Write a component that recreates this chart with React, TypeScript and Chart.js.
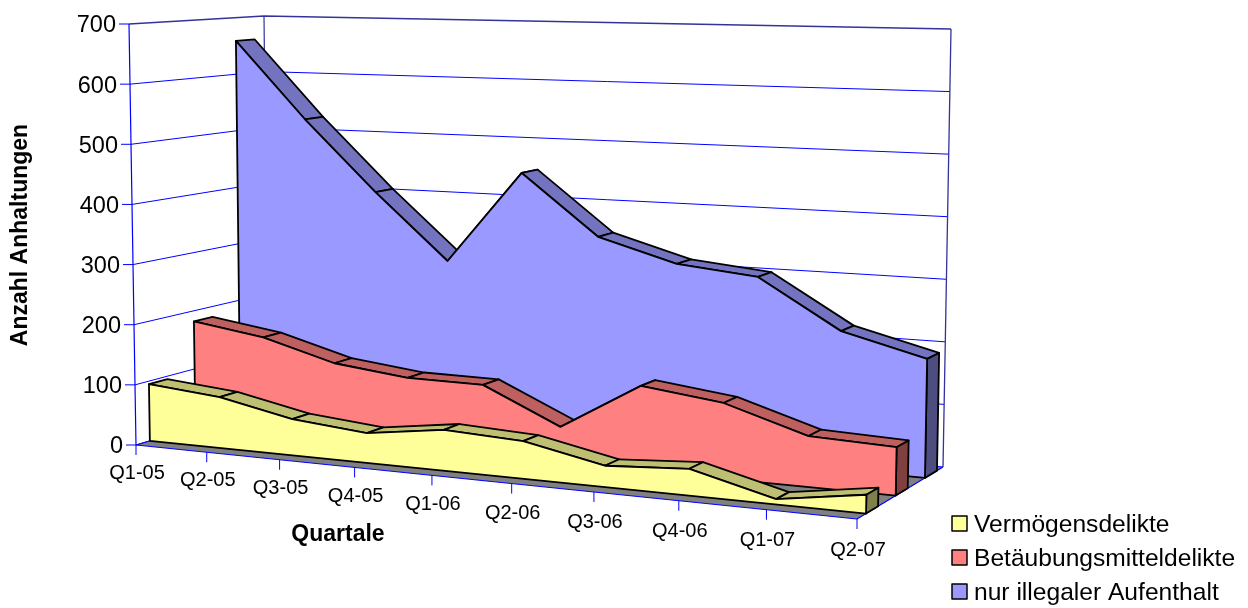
import React, { useEffect, useRef } from "react";
import { Chart, registerables } from "chart.js";

Chart.register(...registerables);

const categories = ["Q1-05", "Q2-05", "Q3-05", "Q4-05", "Q1-06", "Q2-06", "Q3-06", "Q4-06", "Q1-07", "Q2-07"];
const vermoegensdelikte = [95, 84, 59, 48, 65, 59, 33, 41, 8, 28];
const betaeubungsmitteldelikte = [182, 164, 130, 116, 115, 58, 135, 119, 79, 74];
const illegalerAufenthalt = [659, 525, 404, 293, 449, 349, 312, 299, 221, 187];

type P = [number, number];
const FONT = '"Liberation Sans", Arial, sans-serif';

// corners of the 3D box: [front-left, front-right, back-left, back-right]
const floorCorners: P[] = [[136, 445], [857, 519], [268, 405], [943, 467]];
const topCorners: P[] = [[129, 24], [866, 45], [264, 16], [951, 29]];
const PERSPECTIVE = 0.149;

const lerp = (a: number, b: number, k: number) => a + (b - a) * k;
const bilinear = (c: P[], u: number, w: number, idx: 0 | 1) =>
  lerp(lerp(c[0][idx], c[1][idx], u), lerp(c[2][idx], c[3][idx], u), w);

function project(t: number, v: number, w: number): P {
  const u = t / (1 + PERSPECTIVE * (1 - t));
  return [
    lerp(bilinear(floorCorners, u, w, 0), bilinear(topCorners, u, w, 0), v),
    lerp(bilinear(floorCorners, u, w, 1), bilinear(topCorners, u, w, 1), v),
  ];
}

function poly(ctx: CanvasRenderingContext2D, pts: P[], fill: string | null, stroke: string | null, lw = 1.8) {
  ctx.beginPath();
  pts.forEach((p, i) => (i ? ctx.lineTo(p[0], p[1]) : ctx.moveTo(p[0], p[1])));
  if (fill) {
    ctx.closePath();
    ctx.fillStyle = fill;
    ctx.fill();
  }
  if (stroke) {
    ctx.strokeStyle = stroke;
    ctx.lineWidth = lw;
    ctx.stroke();
  }
}

const BLUE = "#0000ff";
const DARK = "#333399";

const box3d = {
  id: "box3d",
  beforeDatasetsDraw(chart: any) {
    const ctx: CanvasRenderingContext2D = chart.ctx;
    const xs = chart.scales.x;
    const ys = chart.scales.y;
    const tOf = (i: number) => (xs.getPixelForValue(i) - xs.left) / xs.width;
    const vOf = (val: number) => (ys.bottom - ys.getPixelForValue(val)) / ys.height;
    ctx.save();
    ctx.lineJoin = "round";

    // floor
    poly(ctx, [project(0, 0, 0), project(1, 0, 0), project(1, 0, 1), project(0, 0, 1)], "#808080", null);

    // walls: grid lines, ticks and value labels
    ys.ticks.forEach((tk: any) => {
      const v = vOf(tk.value);
      const a = project(0, v, 0);
      const b = project(0, v, 1);
      const c = project(1, v, 1);
      const isTop = tk.value === ys.max;
      poly(ctx, [a, b, c], null, isTop ? DARK : BLUE, isTop ? 1.3 : 1);
      poly(ctx, [[a[0] - 10, a[1]], a], null, BLUE, 1);
      ctx.fillStyle = "#000";
      ctx.font = `23.5px ${FONT}`;
      ctx.textAlign = "right";
      ctx.textBaseline = "middle";
      ctx.fillText(String(tk.value), a[0] - 13, a[1] + 2);
    });
    poly(ctx, [project(0, 0, 0), project(0, 1, 0)], null, BLUE, 1.2);
    poly(ctx, [project(0, 0, 1), project(0, 1, 1)], null, DARK, 1.2);
    poly(ctx, [project(1, 0, 1), project(1, 1, 1)], null, DARK, 1.3);
    poly(ctx, [project(0, 0, 0), project(1, 0, 0), project(1, 0, 1)], null, BLUE, 1.2);
    poly(ctx, [project(0, 0, 0), project(0, 0, 1)], null, BLUE, 1);

    // category ticks and labels
    categories.forEach((_, i) => {
      const t = tOf(i);
      const p = project(t, 0, 0);
      poly(ctx, [p, [p[0], p[1] + 10]], null, BLUE, 1);
      ctx.fillStyle = "#000";
      ctx.font = `20px ${FONT}`;
      ctx.textAlign = "center";
      ctx.textBaseline = "middle";
      ctx.fillText(xs.getLabelForValue(i), p[0] + 1, p[1] + 28 + 3 * t);
    });

    // series from back to front
    for (let d = chart.data.datasets.length - 1; d >= 0; d--) {
      const ds = chart.data.datasets[d];
      const [w0, w1] = ds.depthRange;
      const n = ds.data.length;
      const front = (i: number) => project(tOf(i), vOf(ds.data[i]), w0);
      const back = (i: number) => project(tOf(i), vOf(ds.data[i]), w1);
      for (let i = 0; i < n - 1; i++) {
        poly(ctx, [front(i), front(i + 1), back(i + 1), back(i)], ds.topColor, "#000");
      }
      poly(
        ctx,
        [front(n - 1), back(n - 1), project(tOf(n - 1), 0, w1), project(tOf(n - 1), 0, w0)],
        ds.sideColor,
        "#000"
      );
      const face: P[] = [project(tOf(0), 0, w0)];
      for (let i = 0; i < n; i++) face.push(front(i));
      face.push(project(tOf(n - 1), 0, w0));
      poly(ctx, face, ds.backgroundColor, "#000");
    }

    // axis titles
    ctx.fillStyle = "#000";
    ctx.font = `bold 23px ${FONT}`;
    ctx.textAlign = "center";
    ctx.textBaseline = "middle";
    ctx.fillText(xs.options.title.text, 338, 535);
    ctx.save();
    ctx.translate(21, 235);
    ctx.rotate(-Math.PI / 2);
    ctx.fillText(ys.options.title.text, 0, 0);
    ctx.restore();

    // legend
    chart.data.datasets.forEach((ds: any, i: number) => {
      const y = 524 + i * 34;
      ctx.fillStyle = ds.backgroundColor;
      ctx.fillRect(952, y - 8, 15, 15);
      ctx.strokeStyle = "#000";
      ctx.lineWidth = 1.5;
      ctx.strokeRect(952, y - 8, 15, 15);
      ctx.fillStyle = "#000";
      ctx.font = `24.6px ${FONT}`;
      ctx.textAlign = "left";
      ctx.textBaseline = "middle";
      ctx.fillText(ds.label, 974, y + 1);
    });
    ctx.restore();
  },
};

export default function App() {
  const ref = useRef<HTMLCanvasElement>(null);
  useEffect(() => {
    document.body.style.margin = "0";
    const chart = new Chart(ref.current!, {
      type: "line",
      data: {
        labels: categories,
        datasets: [
          {
            label: "Vermögensdelikte",
            data: vermoegensdelikte,
            backgroundColor: "#ffff99",
            topColor: "#bfbf73",
            sideColor: "#80804d",
            depthRange: [0.105, 0.245],
            showLine: false,
            pointRadius: 0,
          },
          {
            label: "Betäubungsmitteldelikte",
            data: betaeubungsmitteldelikte,
            backgroundColor: "#ff8080",
            topColor: "#bf6060",
            sideColor: "#804040",
            depthRange: [0.45, 0.59],
            showLine: false,
            pointRadius: 0,
          },
          {
            label: "nur illegaler Aufenthalt",
            data: illegalerAufenthalt,
            backgroundColor: "#9999ff",
            topColor: "#7373bf",
            sideColor: "#4d4d80",
            depthRange: [0.79, 0.93],
            showLine: false,
            pointRadius: 0,
          },
        ] as any,
      },
      options: {
        animation: false,
        responsive: false,
        layout: { padding: { left: 129, top: 24, right: 297, bottom: 163 } },
        plugins: { legend: { display: false }, tooltip: { enabled: false } },
        scales: {
          x: { display: false, offset: false, title: { text: "Quartale" } },
          y: { display: false, min: 0, max: 700, ticks: { stepSize: 100 }, title: { text: "Anzahl Anhaltungen" } },
        },
      } as any,
      plugins: [box3d],
    });
    return () => chart.destroy();
  }, []);
  return <canvas ref={ref} width={1248} height={608} style={{ display: "block" }} />;
}
